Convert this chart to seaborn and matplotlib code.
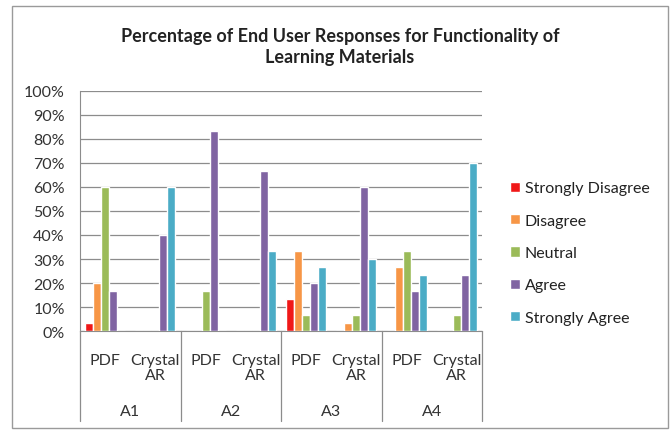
import numpy as np
import seaborn as sns
import pandas as pd
import matplotlib.pyplot as plt
from matplotlib.patches import Rectangle
from matplotlib.transforms import blended_transform_factory

groups = ["A1", "A2", "A3", "A4"]
materials = ["PDF", "Crystal\nAR"]
responses = ["Strongly Disagree", "Disagree", "Neutral", "Agree", "Strongly Agree"]

# percentages, one list per response, order: A1 PDF, A1 AR, A2 PDF, A2 AR, ...
strongly_disagree = [3.3, 0, 0, 0, 13.3, 0, 0, 0]
disagree = [20.0, 0, 0, 0, 33.3, 3.3, 26.7, 0]
neutral = [60.0, 0, 16.7, 0, 6.7, 6.7, 33.3, 6.7]
agree = [16.7, 40.0, 83.3, 66.7, 20.0, 60.0, 16.7, 23.3]
strongly_agree = [0, 60.0, 0, 33.3, 26.7, 30.0, 23.3, 70.0]

colors = ["#F01818", "#F79646", "#9BBB59", "#8064A2", "#4BACC6"]

cats = [g + " " + m for g in groups for m in materials]
rows = []
for resp, vals in zip(responses, [strongly_disagree, disagree, neutral, agree, strongly_agree]):
    for c, v in zip(cats, vals):
        rows.append({"cat": c, "response": resp, "value": v})
df = pd.DataFrame(rows)

sns.set_style("white")
plt.rcParams["font.family"] = ["Lato", "DejaVu Sans"]

fig = plt.figure(figsize=(6.72, 4.31), dpi=100)
ax = fig.add_axes([80 / 672, 1 - 332 / 431, 402 / 672, 240 / 431])

sns.barplot(data=df, x="cat", y="value", hue="response", hue_order=responses,
            palette=colors, width=0.8, gap=0, saturation=1, ax=ax, zorder=3)

ax.set_ylim(0, 100)
ax.set_xlim(-0.5, len(cats) - 0.5)
ax.set_yticks(np.arange(0, 101, 10))
ax.set_yticklabels([f"{t}%" for t in range(0, 101, 10)], fontsize=11.5, color="#333333")
ax.yaxis.grid(True, color="#8c8c8c", linewidth=0.9, zorder=0)
ax.set_xticks(range(len(cats)))
ax.set_xticklabels(materials * len(groups), fontsize=11.5, color="#333333", linespacing=1.05)
ax.tick_params(axis="y", length=0, pad=11)
ax.tick_params(axis="x", length=0, pad=16)
ax.set_xlabel("")
ax.set_ylabel("")
for s in ["top", "right"]:
    ax.spines[s].set_visible(False)
for s in ["left", "bottom"]:
    ax.spines[s].set_color("#8c8c8c")

# group separators and group labels
tr = blended_transform_factory(ax.transData, ax.transAxes)
for b in np.arange(-0.5, len(cats), 2):
    ax.plot([b, b], [0, -0.375], transform=tr, color="#8c8c8c", lw=0.9, clip_on=False)
for i, g in enumerate(groups):
    ax.text(2 * i + 0.5, -0.333, g, transform=tr, ha="center", va="center",
            fontsize=11.5, color="#333333")

ax.legend(loc="upper left", bbox_to_anchor=(496 / 672, 1 - 168 / 431),
          bbox_transform=fig.transFigure, frameon=False, fontsize=11.5,
          handlelength=0.6, handleheight=0.6, handletextpad=0.3, labelspacing=1.15,
          labelcolor="#222222")

fig.text(0.506, 1 - 47 / 431,
         "Percentage of End User Responses for Functionality of\nLearning Materials",
         ha="center", va="center", fontsize=13, fontweight="bold", color="#222222",
         linespacing=1.3)

fig.patches.append(Rectangle((12 / 672, 1 - 429 / 431), 656 / 672, 422 / 431,
                             transform=fig.transFigure, fill=False,
                             edgecolor="#9a9a9a", linewidth=1))

fig.savefig("out.png", dpi=100)
